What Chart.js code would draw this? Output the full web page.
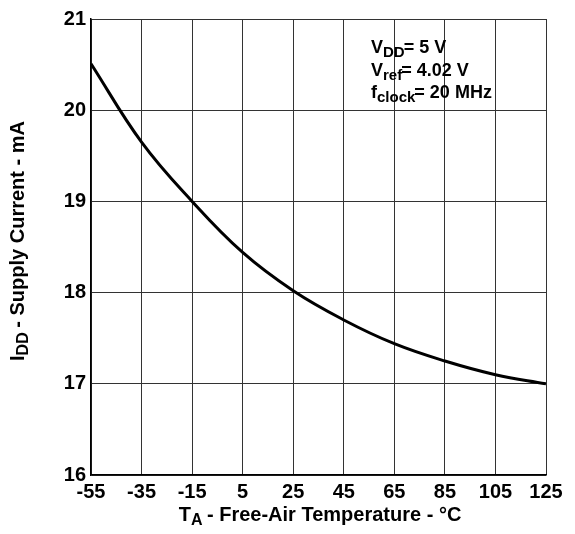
<!DOCTYPE html>
<html>
<head>
<meta charset="utf-8">
<script src="https://cdn.jsdelivr.net/npm/chart.js@4"></script>
<style>
  html, body { margin: 0; padding: 0; background: #fff; }
  #wrap { width: 575px; height: 534px; }
</style>
</head>
<body>
<div id="wrap"><canvas id="myChart" width="575" height="534"></canvas></div>
<script>
// ---------------- data ----------------
var temps = [-55, -35, -15, 5, 25, 45, 65, 85, 105, 125];
var idd = [20.51, 19.65, 19.0, 18.44, 18.02, 17.70, 17.44, 17.25, 17.10, 17.0];
var xTicks = [-55, -35, -15, 5, 25, 45, 65, 85, 105, 125];
var yTicks = [16, 17, 18, 19, 20, 21];

// lines of the conditions box: [main, sub, rest]
var notes = [
  ['V', 'DD', '= 5 V'],
  ['V', 'ref', '= 4.02 V'],
  ['f', 'clock', '= 20 MHz']
];

var FONT = '"Liberation Sans", Arial, sans-serif';

// draw text with a subscript part, returns total width
function subText(ctx, main, sub, rest, x, y, big, small, drop) {
  ctx.font = 'bold ' + big + 'px ' + FONT;
  ctx.fillText(main, x, y);
  var w = ctx.measureText(main).width;
  ctx.font = 'bold ' + small + 'px ' + FONT;
  ctx.fillText(sub, x + w, y + drop);
  w += ctx.measureText(sub).width - 1;
  ctx.font = 'bold ' + big + 'px ' + FONT;
  ctx.fillText(rest, x + w, y);
  w += ctx.measureText(rest).width;
  return w;
}

var textPlugin = {
  id: 'textPlugin',
  afterDraw: function (chart) {
    var ctx = chart.ctx;
    ctx.save();
    ctx.fillStyle = '#000';
    ctx.textBaseline = 'alphabetic';
    ctx.textAlign = 'left';

    // conditions box
    for (var i = 0; i < notes.length; i++) {
      subText(ctx, notes[i][0], notes[i][1], notes[i][2], 371, 53 + i * 22.5, 18, 15, 4);
    }

    // x title, centred under plot
    var tmp = document.createElement('canvas').getContext('2d');
    tmp.font = 'bold 20px ' + FONT;
    var wx = tmp.measureText('T').width + tmp.measureText(' - Free-Air Temperature - °C').width;
    tmp.font = 'bold 16px ' + FONT;
    wx += tmp.measureText('A').width - 1;
    subText(ctx, 'T', 'A', ' - Free-Air Temperature - °C', 320 - wx / 2, 521, 20, 16, 4);

    // y title, rotated
    tmp.font = 'bold 20px ' + FONT;
    var wy = tmp.measureText('I').width + tmp.measureText(' - Supply Current - mA').width;
    tmp.font = 'bold 16px ' + FONT;
    wy += tmp.measureText('DD').width - 1;
    ctx.translate(24, 241);
    ctx.rotate(-Math.PI / 2);
    subText(ctx, 'I', 'DD', ' - Supply Current - mA', -wy / 2, 0, 20, 16, 4);
    ctx.restore();
  }
};

const pickChart = document.getElementById('myChart');
const drawChart = new Chart(pickChart, {
  type: 'line',
  data: {
    datasets: [{
      data: temps.map(function (t, i) { return { x: t, y: idd[i] }; }),
      borderColor: '#000',
      borderWidth: 3,
      pointRadius: 0,
      tension: 0.4,
      fill: false
    }]
  },
  options: {
    responsive: false,
    animation: false,
    layout: { padding: { left: 0, top: 19, right: 29, bottom: 0 } },
    plugins: { legend: { display: false }, tooltip: { enabled: false } },
    scales: {
      x: {
        type: 'linear',
        min: -55,
        max: 125,
        afterFit: function (s) { s.height = 59; },
        afterBuildTicks: function (s) { s.ticks = xTicks.map(function (v) { return { value: v }; }); },
        grid: { color: '#333', lineWidth: 1, drawTicks: false },
        border: { color: '#000', width: 1.5 },
        ticks: { color: '#000', padding: 5, maxRotation: 0, font: { family: FONT, size: 20, weight: 'bold' } }
      },
      y: {
        min: 16,
        max: 21,
        afterFit: function (s) { s.width = 91; },
        afterBuildTicks: function (s) { s.ticks = yTicks.map(function (v) { return { value: v }; }); },
        grid: { color: '#333', lineWidth: 1, drawTicks: false },
        border: { color: '#000', width: 1.5 },
        ticks: { color: '#000', padding: 5, font: { family: FONT, size: 20, weight: 'bold' } }
      }
    }
  },
  plugins: [textPlugin]
});
</script>
</body>
</html>
